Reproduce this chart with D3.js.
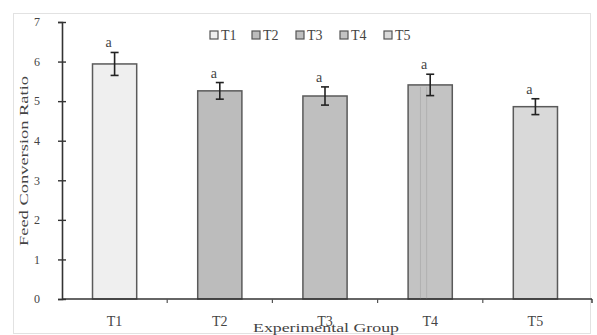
<!doctype html>
<html>
<head>
<meta charset="utf-8">
<script src="https://d3js.org/d3.v7.min.js"></script>
<style>
    body { margin: 0; background: #fff; }
    text { font-family: "Liberation Serif", "DejaVu Serif", serif; fill: #444; }
</style>
</head>
<body>
<svg width="597" height="335"></svg>
<script>
    // data
    var groups = ["T1", "T2", "T3", "T4", "T5"];
    var ratios = [5.94, 5.26, 5.13, 5.41, 4.86];
    var errors = [0.29, 0.21, 0.23, 0.27, 0.20];
    var letters = ["a", "a", "a", "a", "a"];
    var yTicks = [0, 1, 2, 3, 4, 5, 6, 7];
    var fills = ["#efefef", "#bcbcbc", "#bfbfbf", "#c3c3c3", "#d9d9d9"];

    var svg = d3.select("svg");

    // light outer frame
    svg.append("rect")
       .attr("x", 13.5).attr("y", 13.5)
       .attr("width", 577).attr("height", 320)
       .attr("fill", "none")
       .attr("stroke", "#e2e2e2");

    var x = d3.scaleBand().domain(groups).range([62, 588])
              .paddingInner(0.58).paddingOuter(0.29);
    var y = d3.scaleLinear().domain([0, 7]).range([299, 22]);

    // y axis
    var yAxis = svg.append("g").attr("transform", "translate(62,0)")
       .call(d3.axisLeft(y).tickValues(yTicks).tickFormat(d3.format("d"))
                .tickSize(4).tickPadding(18));
    yAxis.select(".domain").attr("stroke", "#333").attr("stroke-width", 1.6);
    yAxis.selectAll(".tick line").attr("stroke", "#333").attr("stroke-width", 1.4)
         .attr("x2", 4).attr("x1", -4);
    yAxis.selectAll(".tick text").attr("font-size", 12)
         .attr("font-family", "Liberation Serif").attr("fill", "#555");

    // bars
    svg.selectAll(".bar").data(groups).enter().append("rect")
       .attr("class", "bar")
       .attr("x", function(d) { return x(d); })
       .attr("y", function(d, i) { return y(ratios[i]); })
       .attr("width", x.bandwidth())
       .attr("height", function(d, i) { return y(0) - y(ratios[i]); })
       .attr("fill", function(d, i) { return fills[i]; })
       .attr("stroke", "#5a5a5a")
       .attr("stroke-width", 1.5);

    // faint vertical streaks inside T4
    [0.28, 0.42].forEach(function(f) {
        svg.append("line")
           .attr("x1", x("T4") + x.bandwidth() * f).attr("x2", x("T4") + x.bandwidth() * f)
           .attr("y1", y(ratios[3]) + 2).attr("y2", y(0))
           .attr("stroke", "#b0b0b0").attr("stroke-width", 1);
    });

    // error bars
    var eb = svg.selectAll(".err").data(groups).enter().append("g").attr("class", "err");
    eb.append("line")
      .attr("x1", function(d) { return x(d) + x.bandwidth() / 2; })
      .attr("x2", function(d) { return x(d) + x.bandwidth() / 2; })
      .attr("y1", function(d, i) { return y(ratios[i] + errors[i]); })
      .attr("y2", function(d, i) { return y(ratios[i] - errors[i]); })
      .attr("stroke", "#222").attr("stroke-width", 1.6);
    [1, -1].forEach(function(s) {
        eb.append("line")
          .attr("x1", function(d) { return x(d) + x.bandwidth() / 2 - 4; })
          .attr("x2", function(d) { return x(d) + x.bandwidth() / 2 + 4; })
          .attr("y1", function(d, i) { return y(ratios[i] + s * errors[i]); })
          .attr("y2", function(d, i) { return y(ratios[i] + s * errors[i]); })
          .attr("stroke", "#222").attr("stroke-width", 1.6);
    });

    // significance letters
    svg.selectAll(".letter").data(groups).enter().append("text")
       .attr("x", function(d) { return x(d) + x.bandwidth() / 2 - 6; })
       .attr("y", function(d, i) { return y(ratios[i] + errors[i]) - 5; })
       .attr("text-anchor", "middle")
       .attr("font-size", 14)
       .text(function(d, i) { return letters[i]; });

    // x axis
    svg.append("line")
       .attr("x1", 62).attr("x2", 592).attr("y1", 299).attr("y2", 299)
       .attr("stroke", "#333").attr("stroke-width", 1.6);
    svg.append("line")
       .attr("x1", 592).attr("x2", 592).attr("y1", 299).attr("y2", 303)
       .attr("stroke", "#333").attr("stroke-width", 1.4);
    svg.selectAll(".xtick").data(groups.slice(1)).enter().append("line")
       .attr("x1", function(d) { return x(d) - x.step() * x.paddingInner() / 2; })
       .attr("x2", function(d) { return x(d) - x.step() * x.paddingInner() / 2; })
       .attr("y1", 299).attr("y2", 303)
       .attr("stroke", "#555").attr("stroke-width", 1.2);
    svg.selectAll(".xlab").data(groups).enter().append("text")
       .attr("x", function(d) { return x(d) + x.bandwidth() / 2; })
       .attr("y", 326)
       .attr("text-anchor", "middle")
       .attr("font-size", 14)
       .text(function(d) { return d; });

    // axis titles
    svg.append("text")
       .attr("x", 326).attr("y", 332)
       .attr("text-anchor", "middle")
       .attr("font-size", 13)
       .attr("textLength", 146)
       .attr("lengthAdjust", "spacingAndGlyphs")
       .text("Experimental  Group");
    svg.append("text")
       .attr("transform", "translate(28,161) rotate(-90)")
       .attr("text-anchor", "middle")
       .attr("font-size", 13)
       .attr("textLength", 170)
       .attr("lengthAdjust", "spacingAndGlyphs")
       .text("Feed Conversion Ratio");

    // legend
    var legX = [210, 252, 296, 340, 384];
    var leg = svg.selectAll(".leg").data(groups).enter().append("g")
       .attr("transform", function(d, i) { return "translate(" + legX[i] + ",31)"; });
    leg.append("rect")
       .attr("width", 8).attr("height", 8)
       .attr("fill", function(d, i) { return fills[i]; })
       .attr("stroke", "#555").attr("stroke-width", 1.2);
    leg.append("text")
       .attr("x", 11).attr("y", 9)
       .attr("font-size", 14)
       .text(function(d) { return d; });
</script>
</body>
</html>
